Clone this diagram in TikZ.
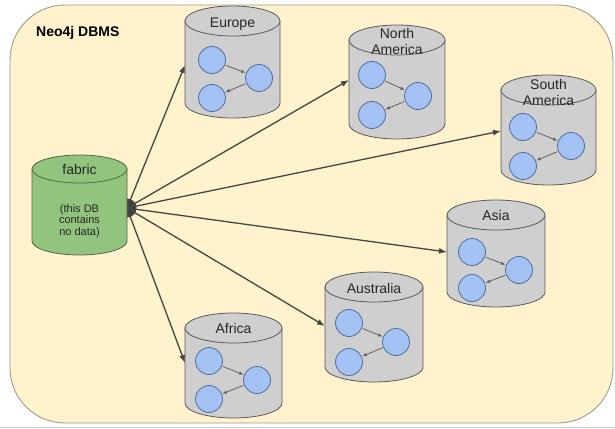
\documentclass[tikz,border=0pt]{standalone}
\usepackage{fontspec}
\setmainfont{Liberation Sans}
\usetikzlibrary{arrows.meta}

\definecolor{panelfill}{HTML}{FFF2CC}
\definecolor{paneledge}{HTML}{9E9A8E}
\definecolor{shardfill}{HTML}{CFCFCF}
\definecolor{shardedge}{HTML}{5A5A5A}
\definecolor{fabricfill}{HTML}{93C47D}
\definecolor{fabricedge}{HTML}{506848}
\definecolor{nodefill}{HTML}{A4C2F4}
\definecolor{nodeedge}{HTML}{4F6D9A}
\definecolor{linkgray}{HTML}{454545}

\tikzset{
  shardbody/.style={draw=shardedge, fill=shardfill, line width=0.8pt},
  fabricbody/.style={draw=fabricedge, fill=fabricfill, line width=0.8pt},
  dbnode/.style={circle, draw=nodeedge, fill=nodefill, line width=0.8pt,
    minimum size=27pt, inner sep=0pt},
  rel/.style={draw=linkgray!85, line width=0.8pt,
    -{Latex[length=4.5pt,width=3.5pt]}, shorten <=1pt, shorten >=0.5pt},
  link/.style={draw=linkgray, line width=1.3pt, -{Latex[length=8pt,width=6pt]}},
  dblabel/.style={font=\fontsize{14}{16}\selectfont, text=black!85, align=center,
    inner sep=0pt},
}

% #1 name, #2 left, #3 top, #4 width, #5 height, #6 body style, #7 half height of the lid
\newcommand\dbcylinder[7]{%
  \path[#6] (#2,#3+#7) -- (#2,#3+#5-#7)
    arc[start angle=180, end angle=0, x radius=#4/2, y radius=#7]
    -- (#2+#4,#3+#7) -- cycle;
  \path[#6] (#2+#4/2,#3+#7) ellipse[x radius=#4/2, y radius=#7];
  \node[inner sep=0pt, minimum width=#4pt, minimum height=#5pt, anchor=north west]
    (#1) at (#2,#3) {};
}

% three graph nodes inside a shard, with two relationships
\newcommand\shardgraph[7]{%
  \node[dbnode] (#1-a) at (#2,#3) {};
  \node[dbnode] (#1-b) at (#4,#5) {};
  \node[dbnode] (#1-c) at (#6,#7) {};
  \draw[rel] (#1-a) -- (#1-b);
  \draw[rel] (#1-b) -- (#1-c);
}

\begin{document}
\begin{tikzpicture}[x=1pt, y=-1pt]
  \useasboundingbox (0,0) rectangle (615,428);

  % DBMS panel
  \path[fill=panelfill, draw=paneledge, line width=0.9pt, rounded corners=55pt]
    (10,5) rectangle (613,423);
  \draw[black!20, line width=1pt] (0,427) -- (615,427);
  \node[font=\fontsize{14}{16}\selectfont\bfseries, anchor=west, inner sep=0pt]
    (dbms) at (36,33) {Neo4j DBMS};

  % shard databases
  \dbcylinder{eu}{185}{6}{95}{112}{shardbody}{15}
  \dbcylinder{na}{349}{25}{96}{114}{shardbody}{15}
  \dbcylinder{sa}{501}{75}{95}{110}{shardbody}{15}
  \dbcylinder{as}{447}{200}{98}{107}{shardbody}{15}
  \dbcylinder{au}{325}{272}{98}{110}{shardbody}{15}
  \dbcylinder{af}{185}{313}{97}{105}{shardbody}{15}

  \node[dblabel] (eu-name) at (232.5,24) {Europe};
  \node[dblabel] (na-name) at (397,41) {North\\America};
  \node[dblabel] (sa-name) at (548.5,92) {South\\America};
  \node[dblabel] (as-name) at (496,215) {Asia};
  \node[dblabel] (au-name) at (374,288) {Australia};
  \node[dblabel] (af-name) at (233.5,328) {Africa};

  \shardgraph{eu}{212}{60}{259}{78}{212}{98}
  \shardgraph{na}{372}{75}{418}{96}{372}{115}
  \shardgraph{sa}{523}{127}{571}{146}{523}{166}
  \shardgraph{as}{472}{252}{519}{270}{472}{288}
  \shardgraph{au}{349}{323}{396}{342}{349}{362}
  \shardgraph{af}{209}{361}{257}{380}{209}{399}

  % entry points on the shard walls
  \coordinate (eu-port) at (185,65);
  \coordinate (na-port) at (349,80);
  \coordinate (sa-port) at (501,131);
  \coordinate (as-port) at (447,252);
  \coordinate (au-port) at (325,326);
  \coordinate (af-port) at (185,363);

  % fabric routing
  \node[circle, fill=linkgray!90!black, inner sep=0pt, minimum size=19pt] (hub) at (127,208) {};
  \foreach \s in {eu,na,sa,as,au,af}
    \draw[link] (hub.center) -- (\s-port);

  \dbcylinder{fabric}{32}{155}{95}{100}{fabricbody}{14}
  \node[dblabel] (fabric-name) at (79.5,169) {fabric};
  \node[font=\fontsize{11}{11.5}\selectfont, text=black!85, align=center, inner sep=0pt]
    (fabric-note) at (79.5,221) {(this DB\\contains\\no data)};
\end{tikzpicture}
\end{document}
